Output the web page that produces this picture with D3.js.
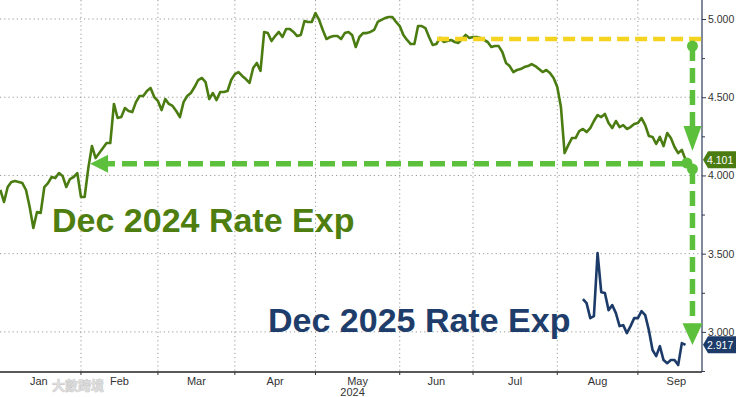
<!DOCTYPE html>
<meta charset="utf-8">
<script src="https://cdn.jsdelivr.net/npm/d3@7"></script>
<style>
body { margin: 0; background: #fff; }
svg text { font-family: "Liberation Sans", Arial, sans-serif; }
.grid line { stroke: #9a9a9a; stroke-width: 1; stroke-dasharray: 1.2,3; }
.yaxis text { font-size: 10.5px; fill: #333; }
.yaxis line { stroke: #2c3b57; }
.month { font-family: "Liberation Sans Narrow", "Liberation Sans", sans-serif !important; font-size: 11px; fill: #333; }
</style>
<body>
<script>
var width = 736, height = 397;
var plotRight = 702, plotBottom = 372;

// month labels on the time axis
var months = ["Jan", "Feb", "Mar", "Apr", "May", "Jun", "Jul", "Aug", "Sep"];
var yearLabel = "2024";

// right axis
var yTicks = [3.0, 3.5, 4.0, 4.5, 5.0];
var yMinor = [2.75, 3.25, 3.75, 4.25, 4.75];

// Dec 2024 fed funds rate expectation, one value per weekday from 2 Jan 2024
var dec24Start = "2024-01-02";
var dec24 = [
  3.907, 3.830, 3.926, 3.958, 3.964, 3.958, 3.951, 3.907, 3.798, 3.664,
  3.766, 3.760, 3.926, 3.951, 3.990, 3.983, 4.015, 3.996, 3.926, 3.977,
  3.990, 4.015, 3.862, 3.862, 4.047, 4.188, 4.111, 4.143, 4.175, 4.207,
  4.207, 4.457, 4.367, 4.373, 4.431, 4.412, 4.405, 4.469, 4.508, 4.508,
  4.540, 4.559, 4.501, 4.476, 4.418, 4.488, 4.457, 4.444, 4.412, 4.373,
  4.469, 4.508, 4.527, 4.565, 4.610, 4.623, 4.597, 4.488, 4.527, 4.482,
  4.533, 4.533, 4.540, 4.610, 4.648, 4.661, 4.636, 4.616, 4.591, 4.687,
  4.719, 4.668, 4.917, 4.910, 4.859, 4.891, 4.917, 4.885, 4.936, 4.936,
  4.917, 4.891, 4.898, 4.987, 4.981, 4.981, 5.038, 4.994, 4.930, 4.872,
  4.885, 4.891, 4.891, 4.872, 4.910, 4.917, 4.898, 4.821, 4.885, 4.910,
  4.910, 4.917, 4.930, 4.981, 4.994, 5.006, 5.013, 5.013, 4.981, 4.955,
  4.898, 4.866, 4.840, 4.840, 4.955, 4.955, 4.942, 4.885, 4.834, 4.840,
  4.879, 4.853, 4.859, 4.866, 4.853, 4.847, 4.872, 4.898, 4.879, 4.885,
  4.885, 4.879, 4.866, 4.853, 4.821, 4.827, 4.827, 4.789, 4.719, 4.699,
  4.661, 4.674, 4.680, 4.693, 4.699, 4.712, 4.699, 4.680, 4.661, 4.674,
  4.655, 4.623, 4.565, 4.437, 4.143, 4.194, 4.239, 4.239, 4.284, 4.297,
  4.277, 4.303, 4.348, 4.386, 4.373, 4.393, 4.335, 4.303, 4.348, 4.309,
  4.322, 4.297, 4.309, 4.329, 4.335, 4.367, 4.322, 4.252, 4.246, 4.201,
  4.246, 4.188, 4.271, 4.239, 4.182, 4.143, 4.163, 4.101
];

// Dec 2025 expectation, from 12 Aug 2024
var dec25Start = "2024-08-12";
var dec25 = [
  3.210, 3.184, 3.088, 3.101, 3.504, 3.254, 3.248, 3.139, 3.171, 3.120,
  3.037, 3.043, 2.992, 3.037, 3.088, 3.088, 3.133, 3.107, 3.011, 2.884,
  2.845, 2.909, 2.820, 2.800, 2.820, 2.820, 2.788, 2.928, 2.917
];

var parse = d3.timeParse("%Y-%m-%d");
// trading (week)days, the axis is spaced by these
var weekdays = d3.timeDay.range(new Date(2024, 0, 1), new Date(2024, 10, 1))
  .filter(function(d) { var w = d.getDay(); return w > 0 && w < 6; });
function dayIndex(date) { return d3.bisectLeft(weekdays, date); }

function toPoints(start, vals) {
  var i0 = dayIndex(parse(start));
  return vals.map(function(v, i) { return {i: i0 + i, v: v}; });
}
var green = toPoints(dec24Start, dec24);
var blue = toPoints(dec25Start, dec25);

var monthStarts = d3.range(0, 10).map(function(m) { return dayIndex(new Date(2024, m, 1)); });

var x = d3.scaleLinear().domain([0, 192.5]).range([-3.3, plotRight]);
var y = d3.scaleLinear().domain([2.75, 5]).range([371, 19]);

var svg = d3.select("body").append("svg")
  .attr("width", width)
  .attr("height", height);

// grid
var grid = svg.append("g").attr("class", "grid");
grid.selectAll("line.h").data(yTicks).enter().append("line")
  .attr("class", "h")
  .attr("x1", 0).attr("x2", plotRight)
  .attr("y1", function(d) { return y(d); })
  .attr("y2", function(d) { return y(d); });
grid.selectAll("line.v").data(monthStarts.slice(1, 9)).enter().append("line")
  .attr("class", "v")
  .attr("x1", function(d) { return x(d); })
  .attr("x2", function(d) { return x(d); })
  .attr("y1", 0).attr("y2", plotBottom);

// watermark
svg.append("text")
  .attr("x", 52).attr("y", 390)
  .style("font-family", "'Noto Sans CJK TC', sans-serif")
  .style("font-size", "13px")
  .style("font-weight", "bold")
  .attr("fill", "#e4e4e4")
  .attr("stroke", "#cccccc")
  .attr("stroke-width", 0.6)
  .text("大數跨境");

// axes
svg.append("line")
  .attr("x1", 0).attr("x2", plotRight)
  .attr("y1", plotBottom).attr("y2", plotBottom)
  .attr("stroke", "#222").attr("stroke-width", 1.3);
svg.append("line")
  .attr("x1", plotRight).attr("x2", plotRight)
  .attr("y1", 0).attr("y2", plotBottom)
  .attr("stroke", "#2c3b57").attr("stroke-width", 1.2);

svg.append("g")
  .attr("transform", "translate(0," + plotBottom + ")")
  .selectAll("line").data(monthStarts.slice(1, 9)).enter().append("line")
  .attr("x1", function(d) { return x(d); })
  .attr("x2", function(d) { return x(d); })
  .attr("y1", 0).attr("y2", 3)
  .attr("stroke", "#333");

svg.selectAll("text.month").data(months).enter().append("text")
  .attr("class", "month")
  .attr("x", function(d, i) { return x((monthStarts[i] + monthStarts[i + 1]) / 2); })
  .attr("y", 385)
  .attr("text-anchor", "middle")
  .text(function(d) { return d; });
svg.append("text")
  .attr("class", "month")
  .attr("x", x((monthStarts[4] + monthStarts[5]) / 2) - 5)
  .attr("y", 396)
  .attr("text-anchor", "middle")
  .text(yearLabel);

var yAxis = svg.append("g")
  .attr("class", "yaxis")
  .attr("transform", "translate(" + plotRight + ",0)")
  .call(d3.axisRight(y).tickValues(yTicks).tickFormat(d3.format(".3f")).tickSize(4).tickPadding(2));
yAxis.select(".domain").remove();
var yAxisMinor = svg.append("g")
  .attr("class", "yaxis")
  .attr("transform", "translate(" + plotRight + ",0)")
  .call(d3.axisRight(y).tickValues(yMinor).tickFormat("").tickSize(3));
yAxisMinor.select(".domain").remove();

// series
var line = d3.line()
  .x(function(d) { return x(d.i); })
  .y(function(d) { return y(d.v); });

svg.append("path").datum(green)
  .attr("fill", "none")
  .attr("stroke", "#4b7c12")
  .attr("stroke-width", 2.6)
  .attr("stroke-linejoin", "round")
  .attr("d", line);
svg.append("path").datum(blue)
  .attr("fill", "none")
  .attr("stroke", "#1c3b68")
  .attr("stroke-width", 2.6)
  .attr("stroke-linejoin", "round")
  .attr("d", line);

// annotations
var annoGreen = "#5cc03d", annoYellow = "#f4d41e";
var xv = x(189.9);

svg.append("line")
  .attr("x1", x(120.2)).attr("x2", plotRight)
  .attr("y1", y(4.872)).attr("y2", y(4.872))
  .attr("stroke", annoYellow).attr("stroke-width", 4.5)
  .attr("stroke-dasharray", "12,6");

function dashed(x1, y1, x2, y2) {
  svg.append("line")
    .attr("x1", x1).attr("y1", y1).attr("x2", x2).attr("y2", y2)
    .attr("stroke", annoGreen).attr("stroke-width", 5.5)
    .attr("stroke-dasharray", "15,7");
}
function dot(cx, cy) {
  svg.append("circle").attr("cx", cx).attr("cy", cy).attr("r", 5.5).attr("fill", annoGreen);
}
function tri(pts) {
  svg.append("path").attr("d", "M" + pts.join("L") + "Z").attr("fill", annoGreen);
}

// top: yellow level down to current
dot(xv, y(4.827));
dashed(xv, y(4.827), xv, y(4.316));
tri([[xv - 9, y(4.316)], [xv + 9, y(4.316)], [xv, y(4.156)]]);

// horizontal back to February
dashed(x(188.4), y(4.075), x(30.4), y(4.075));
tri([[x(30.4), y(4.075) - 9], [x(30.4), y(4.075) + 9], [x(25.5), y(4.075)]]);
dot(x(188.4), y(4.079));

// bottom: down to Dec 2025
dot(xv, y(4.041));
dashed(xv, y(4.041), xv, y(3.056));
tri([[xv - 10, y(3.056)], [xv + 10, y(3.056)], [xv, y(2.916)]]);

// titles
svg.append("text")
  .attr("x", 52).attr("y", 232)
  .style("font-size", "34px").style("font-weight", "bold")
  .attr("fill", "#4e7e0f")
  .text("Dec 2024 Rate Exp");
svg.append("text")
  .attr("x", 268).attr("y", 332)
  .style("font-size", "34px").style("font-weight", "bold")
  .attr("fill", "#1f3d6a")
  .text("Dec 2025 Rate Exp");

// last value tags
function tag(v, color) {
  var cy = y(v);
  svg.append("path")
    .attr("d", "M" + (plotRight + 1) + "," + cy + "L" + (plotRight + 6) + "," + (cy - 8.5) +
      "H" + width + "V" + (cy + 8.5) + "H" + (plotRight + 6) + "Z")
    .attr("fill", color);
  svg.append("text")
    .attr("x", plotRight + 5).attr("y", cy + 4)
    .style("font-size", "10.5px")
    .attr("fill", "#fff")
    .text(d3.format(".3f")(v));
}
tag(dec24[dec24.length - 1], "#4b7c12");
tag(dec25[dec25.length - 1], "#1c3b68");
</script>
</body>
</html>
